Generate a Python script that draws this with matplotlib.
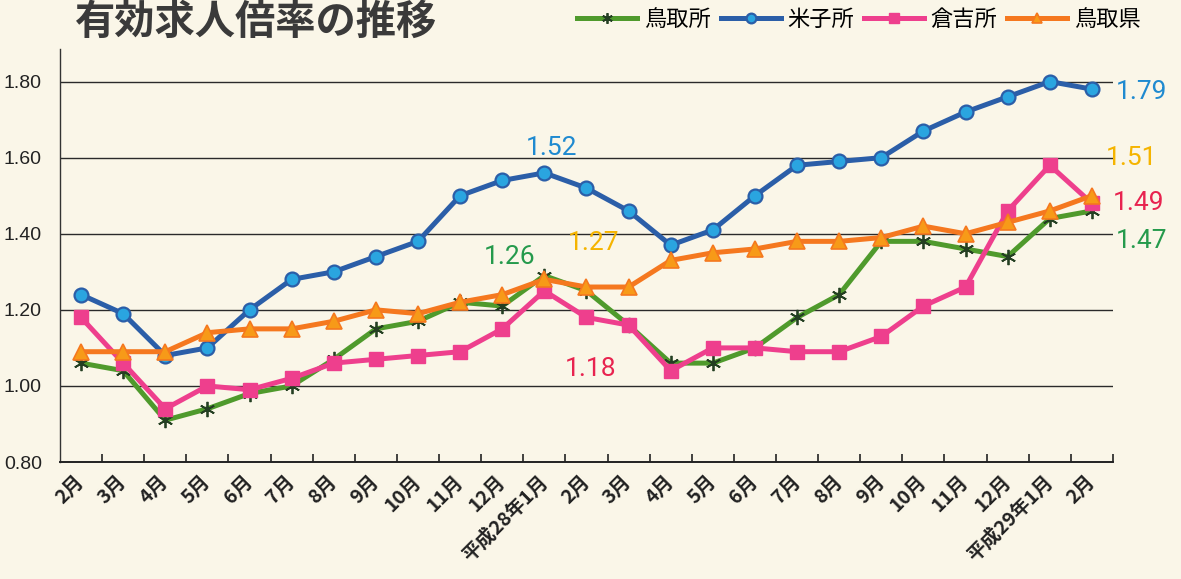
import matplotlib
matplotlib.use("Agg")
import matplotlib.pyplot as plt

plt.rcParams['font.family'] = ['Noto Sans CJK JP', 'DejaVu Sans']

months = ["2月", "3月", "4月", "5月", "6月", "7月", "8月", "9月", "10月", "11月", "12月",
          "平成28年1月", "2月", "3月", "4月", "5月", "6月", "7月", "8月", "9月", "10月", "11月", "12月",
          "平成29年1月", "2月"]

tottori_office = [1.06, 1.04, 0.91, 0.94, 0.98, 1.00, 1.07, 1.15, 1.17, 1.22, 1.21,
                  1.29, 1.25, 1.16, 1.06, 1.06, 1.10, 1.18, 1.24, 1.38, 1.38, 1.36, 1.34,
                  1.44, 1.46]
yonago_office = [1.24, 1.19, 1.08, 1.10, 1.20, 1.28, 1.30, 1.34, 1.38, 1.50, 1.54,
                 1.56, 1.52, 1.46, 1.37, 1.41, 1.50, 1.58, 1.59, 1.60, 1.67, 1.72, 1.76,
                 1.80, 1.78]
kurayoshi_office = [1.18, 1.06, 0.94, 1.00, 0.99, 1.02, 1.06, 1.07, 1.08, 1.09, 1.15,
                    1.25, 1.18, 1.16, 1.04, 1.10, 1.10, 1.09, 1.09, 1.13, 1.21, 1.26, 1.46,
                    1.58, 1.48]
tottori_pref = [1.09, 1.09, 1.09, 1.14, 1.15, 1.15, 1.17, 1.20, 1.19, 1.22, 1.24,
                1.28, 1.26, 1.26, 1.33, 1.35, 1.36, 1.38, 1.38, 1.39, 1.42, 1.40, 1.43,
                1.46, 1.50]

series_names = ["鳥取所", "米子所", "倉吉所", "鳥取県"]
y_ticks = [0.80, 1.00, 1.20, 1.40, 1.60, 1.80]

bg = "#faf6e8"
fig = plt.figure(figsize=(11.81, 5.79), dpi=100, facecolor=bg)
ax = fig.add_axes([0.0508, 0.202, 0.8916, 0.713])
ax.set_facecolor(bg)

x = list(range(len(months)))

green_c = "#4f9a2c"
blue_c = "#2b5ea8"
pink_c = "#ee3f8d"
orange_c = "#f5781f"

l1, = ax.plot(x, tottori_office, color=green_c, lw=3.6, marker=(6, 2, 0), ms=11,
              mec="#243f22", mew=1.3, zorder=3, label=series_names[0])
l2, = ax.plot(x, yonago_office, color=blue_c, lw=3.6, marker='o', ms=10,
              mfc="#2aa5e0", mec=blue_c, mew=1.6, zorder=4, label=series_names[1])
l3, = ax.plot(x, kurayoshi_office, color=pink_c, lw=3.6, marker='s', ms=10.5,
              mfc=pink_c, mec=pink_c, zorder=5, label=series_names[2])
l4, = ax.plot(x, tottori_pref, color=orange_c, lw=3.6, marker='^', ms=11,
              mfc="#f79a18", mec=orange_c, mew=1.2, zorder=6, label=series_names[3])

ax.set_xlim(-0.5, len(months) - 0.5)
ax.set_ylim(0.80, 1.885)

for v in y_ticks[1:]:
    ax.axhline(v, color="#2a2a2a", lw=1.0, zorder=1)

ax.set_yticks(y_ticks)
ax.set_yticklabels([f"{v:.2f}" for v in y_ticks], fontsize=14, color="#222222",
                   family=['Liberation Sans', 'DejaVu Sans'])
ax.tick_params(axis='y', length=0, pad=13)

ax.set_xticks([i + 0.5 for i in range(len(months))])
ax.set_xticklabels([])
ax.set_xticks(x, minor=True)
ax.set_xticklabels(months, minor=True, rotation=45, ha='right', va='center',
                   rotation_mode='anchor', fontsize=14, fontweight='bold', color="#222222")
ax.tick_params(axis='x', which='major', direction='in', length=6, width=1.2, color="#222222")
ax.tick_params(axis='x', which='minor', length=0, pad=12)

for s in ['top', 'right']:
    ax.spines[s].set_visible(False)
ax.spines['left'].set_color("#333333")
ax.spines['left'].set_linewidth(1.0)
ax.spines['bottom'].set_color("#222222")
ax.spines['bottom'].set_linewidth(1.4)

num_font = ['Roboto', 'DejaVu Sans']
ax.text(11.16, 1.626, "1.52", color="#1f8ad0", fontsize=19, ha='center', va='center', family=num_font)
ax.text(10.17, 1.340, "1.26", color="#259a4c", fontsize=19, ha='center', va='center', family=num_font)
ax.text(12.16, 1.375, "1.27", color="#f5b400", fontsize=19, ha='center', va='center', family=num_font)
ax.text(12.09, 1.044, "1.18", color="#e8234f", fontsize=19, ha='center', va='center', family=num_font)
ax.text(24.57, 1.772, "1.79", color="#1f8ad0", fontsize=19, ha='left', va='center', family=num_font, clip_on=False)
ax.text(24.34, 1.600, "1.51", color="#f5b400", fontsize=19, ha='left', va='center', family=num_font, clip_on=False)
ax.text(24.50, 1.481, "1.49", color="#e8234f", fontsize=19, ha='left', va='center', family=num_font, clip_on=False)
ax.text(24.57, 1.380, "1.47", color="#259a4c", fontsize=19, ha='left', va='center', family=num_font, clip_on=False)

fig.text(0.0635, 0.962, "有効求人倍率の推移", fontsize=29, fontweight='bold', color="#3a3a3a",
         ha='left', va='center')

fig.legend(handles=[l1, l2, l3, l4], labels=series_names, loc='center right',
           bbox_to_anchor=(0.966, 0.967), ncol=4, frameon=False, fontsize=16,
           handlelength=2.7, handletextpad=0.3, columnspacing=0.45, markerscale=0.7,
           borderpad=0, borderaxespad=0)

fig.savefig("out.png", dpi=100, facecolor=bg)
